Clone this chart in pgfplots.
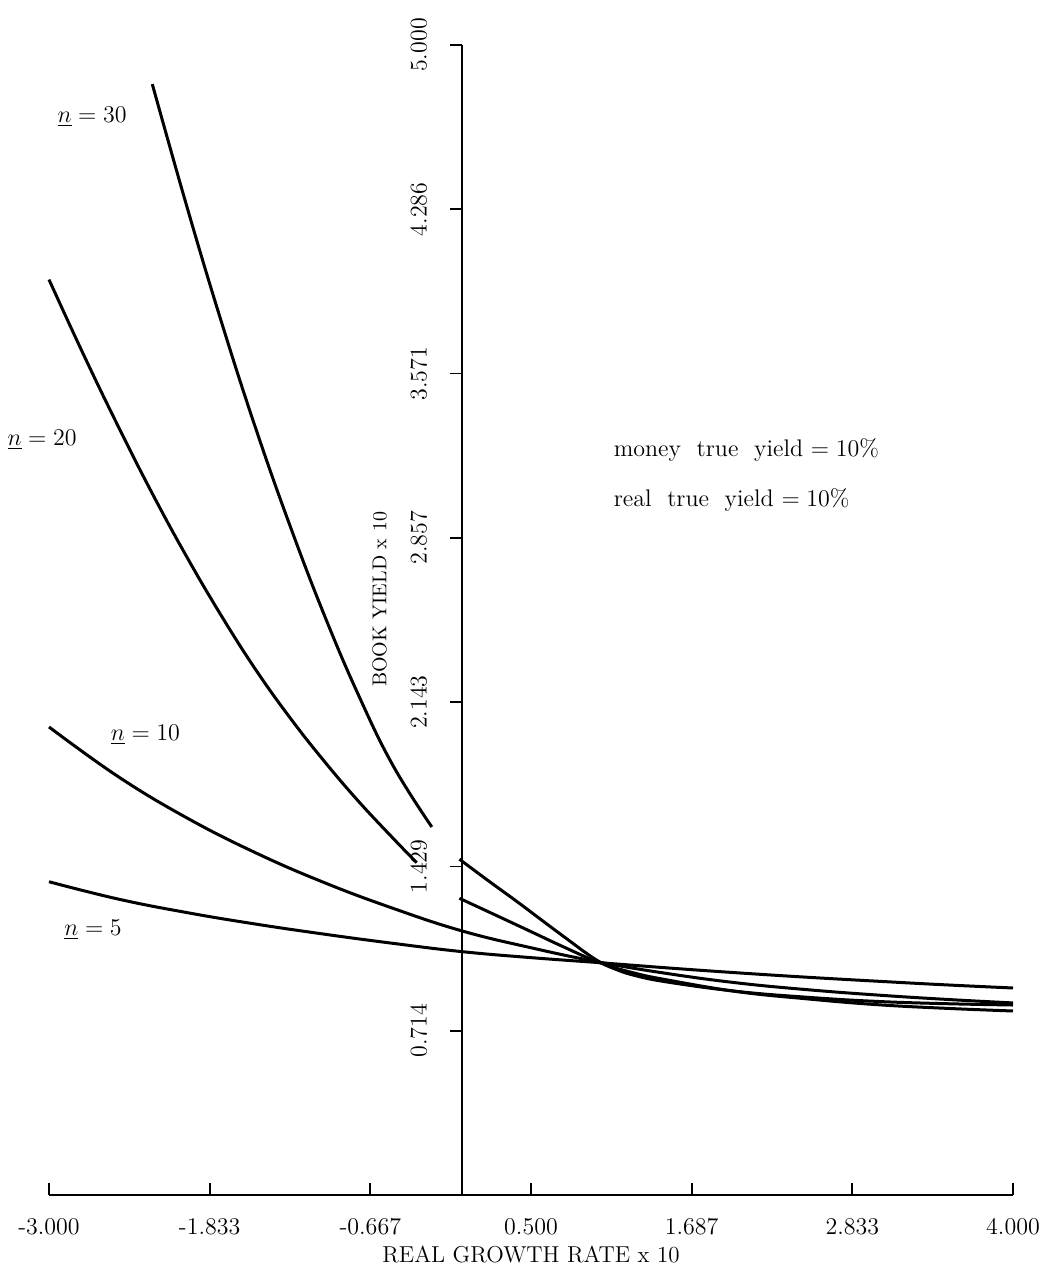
\documentclass[border=0pt]{standalone}
\usepackage{pgfplots}
\pgfplotsset{compat=1.18}
\begin{document}
\begin{tikzpicture}
\begin{axis}[
  scale only axis, width=482pt, height=575pt,
  xmin=-3, xmax=4, ymin=0, ymax=5,
  clip=false,
  axis x line=bottom, axis y line=middle,
  every outer x axis line/.append style={-},
  every inner x axis line/.append style={-},
  every outer y axis line/.append style={-},
  every inner y axis line/.append style={-},
  axis line style={line width=1.1pt, black},
  xtick={-3,-1.833333,-0.666667,0.5,1.666667,2.833333,4},
  xticklabels={-3.000,-1.833,-0.667,0.500,1.687,2.833,4.000},
  ytick={0.714286,1.428571,2.142857,2.857143,3.571429,4.285714,5},
  yticklabels={0.714,1.429,2.143,2.857,3.571,4.286,5.000},
  tick align=outside,
  major tick length=6pt,
  tick style={line width=0.9pt, black},
  xtick style={yshift=6pt},
  tick label style={font=\fontsize{12}{14}\selectfont},
  yticklabel style={rotate=90, anchor=south},
  yticklabel shift=8pt,
  xticklabel style={anchor=north},
  xticklabel shift=2pt,
  xlabel={REAL GROWTH RATE x 10},
  xlabel style={font=\fontsize{11.5}{14}\selectfont, at={(axis description cs:0.5,0)}, anchor=center, yshift=-30pt},
  curve/.style={black, line width=1.5pt, smooth, tension=0.7, no markers},
]
% n = 30
\addplot[curve] coordinates {(-2.25,4.83) (-2.0,4.30) (-1.75,3.80) (-1.5,3.335) (-1.25,2.91) (-1.0,2.52) (-0.75,2.17) (-0.5,1.865) (-0.22,1.60)};
\addplot[curve] coordinates {(-0.02,1.46) (0.2,1.362) (0.4,1.275) (0.6,1.185) (0.8,1.096) (0.9,1.052) (1.0,1.013) (1.1,0.985) (1.25,0.955) (1.5,0.925) (2.0,0.885) (2.5,0.860) (3.0,0.842) (3.5,0.832) (4.0,0.826)};
% n = 20
\addplot[curve] coordinates {(-3.0,3.98) (-2.75,3.655) (-2.5,3.345) (-2.25,3.05) (-2.0,2.775) (-1.75,2.52) (-1.5,2.285) (-1.25,2.075) (-1.0,1.885) (-0.75,1.71) (-0.5,1.55) (-0.33,1.445)};
\addplot[curve] coordinates {(-0.02,1.29) (0.25,1.215) (0.5,1.145) (0.75,1.075) (1.0,1.01) (1.25,0.965) (1.5,0.934) (2.0,0.884) (2.5,0.853) (3.0,0.828) (3.5,0.812) (4.0,0.800)};
% n = 10
\addplot[curve] coordinates {(-3.0,2.035) (-2.5,1.820) (-2.0,1.640) (-1.5,1.488) (-1.0,1.358) (-0.5,1.246) (0,1.148) (0.5,1.075) (1.0,1.012) (1.5,0.962) (2.0,0.922) (2.5,0.893) (3.0,0.870) (3.5,0.851) (4.0,0.835)};
% n = 5
\addplot[curve] coordinates {(-3.0,1.362) (-2.5,1.287) (-2.0,1.228) (-1.5,1.178) (-1.0,1.134) (-0.5,1.094) (0,1.058) (0.5,1.032) (1.0,1.010) (1.5,0.987) (2.0,0.966) (2.5,0.947) (3.0,0.930) (3.5,0.914) (4.0,0.900)};

\node[font=\fontsize{12.5}{14}\selectfont] at (axis cs:-2.687,4.687) {$\underline{n}=30$};
\node[font=\fontsize{12.5}{14}\selectfont] at (axis cs:-3.05,3.283) {$\underline{n}=20$};
\node[font=\fontsize{12.5}{14}\selectfont] at (axis cs:-2.30,2.0) {$\underline{n}=10$};
\node[font=\fontsize{12.5}{14}\selectfont] at (axis cs:-2.68,1.152) {$\underline{n}=5$};
\node[anchor=west, font=\fontsize{12}{14}\selectfont] at (axis cs:1.05,3.24) {money\ \ true\ \ yield $=10\%$};
\node[anchor=west, font=\fontsize{12}{14}\selectfont] at (axis cs:1.05,3.02) {real\ \ true\ \ yield $=10\%$};
\node[rotate=90, font=\fontsize{10}{12}\selectfont] at (axis cs:-0.6,2.59) {BOOK YIELD x 10};
\coordinate (BL) at (rel axis cs:0,0);
\end{axis}
\pgfresetboundingbox
\path[use as bounding box] ([shift={(-24.5pt,-40pt)}]BL) rectangle ([shift={(505pt,597.5pt)}]BL);
\end{tikzpicture}
\end{document}
